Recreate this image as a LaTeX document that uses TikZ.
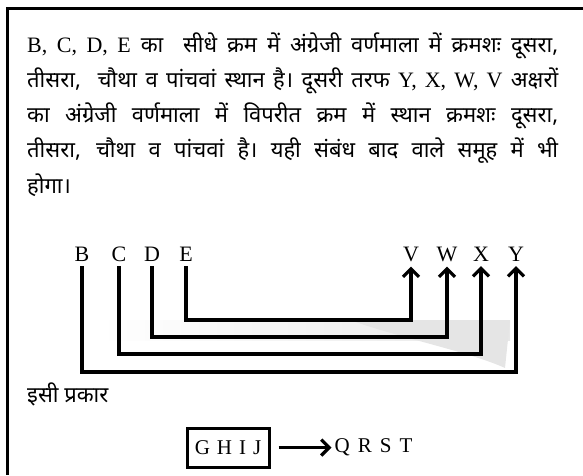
\documentclass[tikz,border=0pt]{standalone}
\usepackage{fontspec}
\setmainfont{Liberation Serif}
\newfontfamily\deva[Script=Devanagari]{Noto Sans}
\usepackage{tikz}
\usetikzlibrary{positioning,arrows.meta}
\newcommand{\lat}[1]{{\rmfamily #1}}

\begin{document}
\begin{tikzpicture}[x=1pt, y=-1pt,
link/.style={line width=3.2pt, -{Straight Barb[length=8pt,width=16pt,line width=3.2pt]}},
letternode/.style={inner xsep=0pt, inner ysep=5pt, anchor=base, font=\fontsize{22}{26}\selectfont},
boxnode/.style={draw, line width=3pt, minimum width=82pt, minimum height=39pt, inner sep=0pt, font=\fontsize{21}{24}\selectfont},
hindi/.style={inner sep=0pt, font=\deva\fontsize{22}{35.3}\selectfont}]
\useasboundingbox (0,0) rectangle (583,475);
% frame
\draw[line width=3pt] (583,8) -- (7,8) -- (7,475);
% faint watermark
\shade[left color=white, right color=gray!18] (100,320) rectangle (510,340);
\fill[gray!20] (350,320) -- (510,320) -- (505,368) .. controls (470,352) and (400,338) .. (350,320);
% paragraph
\node[hindi, text width=531pt, align=justify, anchor=base west] (para) at (27,52)
{\lat{B, C, D, E} का\ \ सीधे क्रम में अंग्रेजी वर्णमाला में क्रमशः दूसरा,\linebreak
तीसरा,\ \ चौथा व पांचवां स्थान है। दूसरी तरफ \lat{Y, X, W, V} अक्षरों\linebreak
का अंग्रेजी वर्णमाला में विपरीत क्रम में स्थान क्रमशः दूसरा,\linebreak
तीसरा, चौथा व पांचवां है। यही संबंध बाद वाले समूह में भी\linebreak
होगा।};
% letters
\node[letternode] (B) at (82,261) {B};
\node[letternode] (C) at (119,261) {C};
\node[letternode] (D) at (152,261) {D};
\node[letternode] (E) at (186,261) {E};
\node[letternode] (V) at (411,261) {V};
\node[letternode] (W) at (447,261) {W};
\node[letternode] (X) at (481,261) {X};
\node[letternode] (Y) at (516,261) {Y};
\draw[link] (E.south) -- (E.south |- 0,320) -| (V.south);
\draw[link] (D.south) -- (D.south |- 0,337) -| (W.south);
\draw[link] (C.south) -- (C.south |- 0,354) -| (X.south);
\draw[link] (B.south) -- (B.south |- 0,372) -| (Y.south);
% second part
\node[hindi, anchor=base west] (similar) at (27,402) {इसी प्रकार};
\node[boxnode] (box) at (228,447.5) {G\hspace{7pt}H\hspace{7pt}I\hspace{7pt}J};
\node[inner sep=0pt, font=\fontsize{21}{24}\selectfont] (qrst) [right=64pt of box] {Q\hspace{8pt}R\hspace{8pt}S\hspace{8pt}T};
\draw[link] (box) -- (qrst) [shorten <=8pt, shorten >=3pt];
\end{tikzpicture}
\end{document}
